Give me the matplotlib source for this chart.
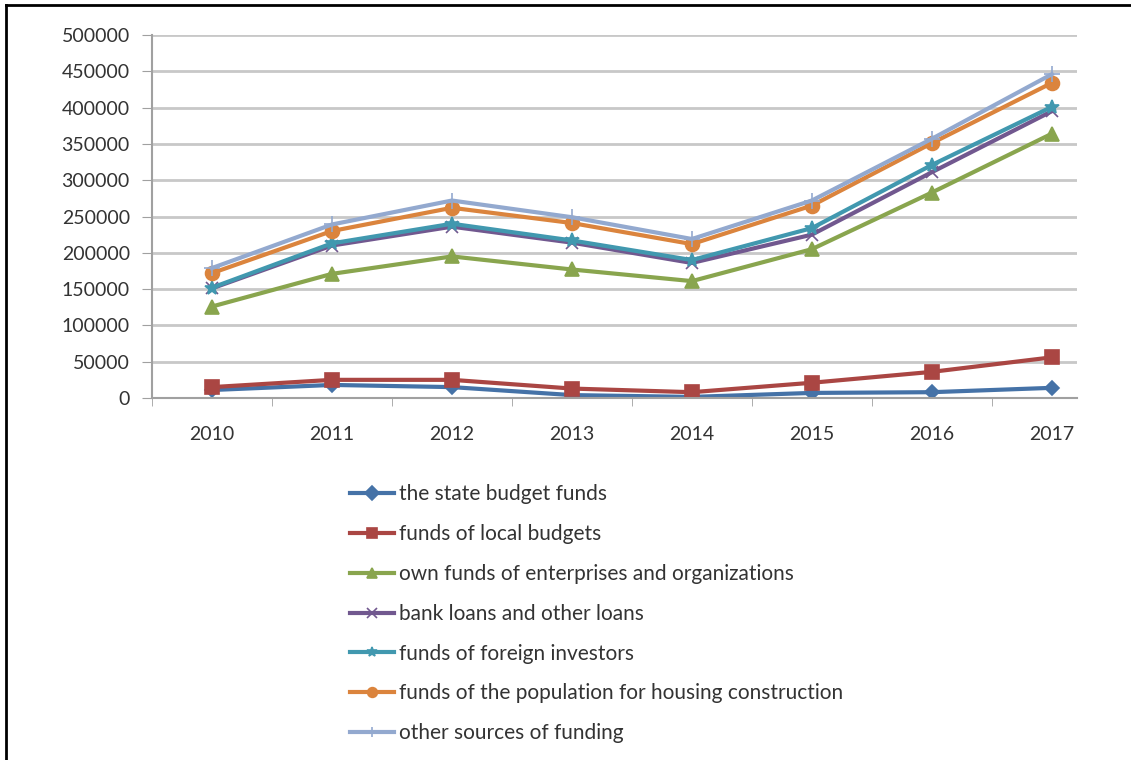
import matplotlib.pyplot as plt
from matplotlib.lines import Line2D

plt.rcParams['font.family'] = ['Lato', 'DejaVu Sans']

years = ["2010", "2011", "2012", "2013", "2014", "2015", "2016", "2017"]

state_budget = [11000, 18000, 15000, 4000, 1500, 7000, 8000, 14000]
local_budgets = [15000, 25000, 25000, 13000, 8000, 21000, 36000, 56000]
own_funds = [126000, 171000, 195000, 177000, 161000, 205000, 283000, 364000]
bank_loans = [151000, 210000, 236000, 214000, 186000, 225000, 311000, 395000]
foreign_investors = [152000, 213000, 240000, 217000, 190000, 234000, 321000, 401000]
population_housing = [172000, 230000, 262000, 241000, 212000, 265000, 351000, 434000]
other_sources = [179000, 239000, 272000, 249000, 219000, 272000, 357000, 446000]

series = [
    ("the state budget funds", state_budget, "#4572A7", "D", 7),
    ("funds of local budgets", local_budgets, "#AA4643", "s", 10),
    ("own funds of enterprises and organizations", own_funds, "#89A54E", "^", 10),
    ("bank loans and other loans", bank_loans, "#71588F", "x", 9),
    ("funds of foreign investors", foreign_investors, "#4198AF", "*", 10),
    ("funds of the population for housing construction", population_housing, "#DB843D", "o", 10),
    ("other sources of funding", other_sources, "#93A9CF", "+", 12),
]

fig = plt.figure(figsize=(11.31, 7.6), dpi=100)
ax = fig.add_axes([152 / 1131, 1 - 398 / 760, (1077 - 152) / 1131, 363 / 760])

x = list(range(len(years)))
for label, vals, col, mk, ms in series:
    ax.plot(x, vals, color=col, linewidth=3, marker=mk, markersize=ms,
            markerfacecolor=col, markeredgecolor=col, markeredgewidth=1.2,
            label=label)

ax.set_ylim(0, 500000)
ax.set_xlim(-0.5, 7.21)
ax.set_yticks(range(0, 500001, 50000))
ax.set_yticklabels([str(v) for v in range(0, 500001, 50000)])
ax.set_xticks(x)
ax.set_xticklabels(years)
ax.set_xticks([i + 0.5 for i in range(-1, 7)], minor=True)
ax.tick_params(axis='x', which='major', length=0, pad=20, labelsize=14, colors='#333333')
ax.tick_params(axis='x', which='minor', length=6, color='#a0a0a0', direction='out')
ax.tick_params(axis='y', length=7, color='#a0a0a0', labelsize=14, pad=9, colors='#333333')
for t in ax.get_yticklines():
    t.set_color('#a0a0a0')
ax.grid(axis='y', color='#c8c8c8', linewidth=2)
ax.set_axisbelow(True)
for s in ['top', 'right']:
    ax.spines[s].set_visible(False)
ax.spines['left'].set_color('#a0a0a0')
ax.spines['bottom'].set_color('#a0a0a0')
ax.spines['left'].set_linewidth(1.5)
ax.spines['bottom'].set_linewidth(1.5)

leg = fig.legend(loc='upper left', bbox_to_anchor=(340 / 1131, 1 - 474 / 760),
                 frameon=False, fontsize=15, labelspacing=0.95, handlelength=2.1,
                 handletextpad=0.25, borderpad=0, labelcolor='#333333')
for h in leg.legend_handles:
    h.set_markersize(7)
    h.set_linewidth(3)

# figure border on the top and left
fig.add_artist(Line2D([6 / 1131, 6 / 1131], [0, 1 - 5 / 760], color='black', linewidth=2))
fig.add_artist(Line2D([6 / 1131, 1], [1 - 5 / 760, 1 - 5 / 760], color='black', linewidth=2))

fig.savefig("out.png", dpi=100, facecolor='white')
